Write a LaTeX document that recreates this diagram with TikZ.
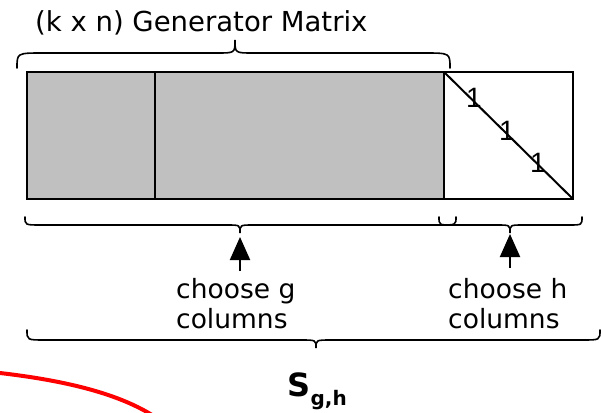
\documentclass[tikz,border=0pt]{standalone}
\usepackage{fontspec}
\setmainfont{DejaVu Sans}
\newfontfamily\onefont{Liberation Sans}
\usetikzlibrary{arrows.meta}
\tikzset{
  lbl/.style={inner sep=0pt, font=\fontsize{26.5}{30}\selectfont},
  onestyle/.style={inner sep=0pt, font=\onefont\fontsize{28}{30}\selectfont},
  frame/.style={line width=2pt},
  brc/.style={line width=1.6pt, line cap=round},
  upar/.style={line width=2pt, -{Triangle[width=20pt,length=23pt]}},
  hl/.style={draw=red, line width=4pt},
}
\definecolor{matgray}{HTML}{C0C0C0}
% x1, x2, point x, tip y, mid y, point y, end width, point width
\newcommand\hbrace[8]{%
  \draw[brc] (#1,#4) .. controls (#1,#5) .. ({#1+#7},#5) -- ({#3-#8},#5)
    .. controls (#3,#5) .. (#3,#6) .. controls (#3,#5) .. ({#3+#8},#5)
    -- ({#2-#7},#5) .. controls (#2,#5) .. (#2,#4);}
\begin{document}
\begin{tikzpicture}[x=1pt,y=-1pt]
  \useasboundingbox (0,0) rectangle (601,412);
  \fill[white] (0,0) rectangle (601,412);
  \clip (0,0) rectangle (601,412);

  % title
  \node[lbl, anchor=base west, font=\fontsize{27.5}{30}\selectfont] (title) at (35,31) {(k x n) Generator Matrix};

  % matrix
  \fill[matgray] (27,72) rectangle (444,199);
  \coordinate (tl) at (27,72);
  \coordinate (br) at (573,199);
  \coordinate (d1) at (155,72);  \coordinate (d1b) at (155,199);
  \coordinate (d2) at (444,72);  \coordinate (d2b) at (444,199);
  \draw[frame] (tl) rectangle (br);
  \draw[frame] (d1) -- (d1b);
  \draw[frame] (d2) -- (d2b);
  \draw[frame] (d2) -- (br);
  \node[onestyle] (one1) at (474,98) {1};
  \node[onestyle] (one2) at (507,131) {1};
  \node[onestyle] (one3) at (538,163) {1};

  % braces
  \hbrace{17}{450}{235}{68}{53}{40}{26}{18}
  \hbrace{25}{456}{240}{217}{225}{233}{16}{13}
  \hbrace{439}{582}{510}{217}{225}{233}{13}{13}
  \hbrace{27}{600}{316}{330}{340}{348}{18}{15}

  % labels
  \node[lbl, anchor=base west] (cg) at (176,298) {choose g};
  \node[lbl, anchor=base west] (cgc) at (176,328) {columns};
  \node[lbl, anchor=base west] (ch) at (448,298) {choose h};
  \node[lbl, anchor=base west] (chc) at (448,328) {columns};

  % arrows
  \coordinate (ga) at (240,271);
  \coordinate (gp) at (240,237);
  \coordinate (ha) at (510,268);
  \coordinate (hp) at (510,234);
  \draw[upar] (ga) -- (gp);
  \draw[upar] (ha) -- (hp);

  % S_{g,h}
  \node[inner sep=0pt, anchor=base west, font=\bfseries\fontsize{32}{32}\selectfont] (S) at (287,396) {S};
  \node[inner sep=0pt, anchor=base west, font=\bfseries\fontsize{20}{20}\selectfont] (Ssub) at (S.base east) [yshift=-9pt] {g,h};

  % red highlight
  \draw[hl] (0,373) .. controls (60,380) and (115,392) .. (152,415);
\end{tikzpicture}
\end{document}
